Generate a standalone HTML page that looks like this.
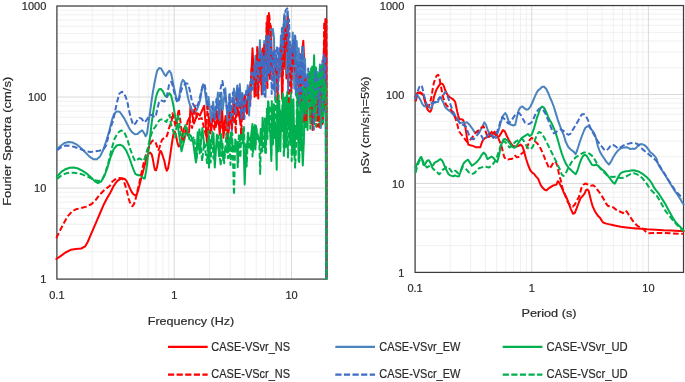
<!DOCTYPE html>
<html><head><meta charset="utf-8"><style>
html,body{margin:0;padding:0;background:#fff;overflow:hidden}
svg{display:block;will-change:transform}
</style></head><body>
<svg width="685" height="382" viewBox="0 0 685 382">
<rect width="685" height="382" fill="#ffffff"/>
<line x1="92.21" y1="6.01" x2="92.21" y2="279.10" stroke="#f0f0f0" stroke-width="1"/>
<line x1="112.87" y1="6.01" x2="112.87" y2="279.10" stroke="#f0f0f0" stroke-width="1"/>
<line x1="127.52" y1="6.01" x2="127.52" y2="279.10" stroke="#f0f0f0" stroke-width="1"/>
<line x1="138.89" y1="6.01" x2="138.89" y2="279.10" stroke="#f0f0f0" stroke-width="1"/>
<line x1="148.18" y1="6.01" x2="148.18" y2="279.10" stroke="#f0f0f0" stroke-width="1"/>
<line x1="156.03" y1="6.01" x2="156.03" y2="279.10" stroke="#f0f0f0" stroke-width="1"/>
<line x1="162.83" y1="6.01" x2="162.83" y2="279.10" stroke="#f0f0f0" stroke-width="1"/>
<line x1="168.83" y1="6.01" x2="168.83" y2="279.10" stroke="#f0f0f0" stroke-width="1"/>
<line x1="209.51" y1="6.01" x2="209.51" y2="279.10" stroke="#f0f0f0" stroke-width="1"/>
<line x1="230.17" y1="6.01" x2="230.17" y2="279.10" stroke="#f0f0f0" stroke-width="1"/>
<line x1="244.82" y1="6.01" x2="244.82" y2="279.10" stroke="#f0f0f0" stroke-width="1"/>
<line x1="256.19" y1="6.01" x2="256.19" y2="279.10" stroke="#f0f0f0" stroke-width="1"/>
<line x1="265.48" y1="6.01" x2="265.48" y2="279.10" stroke="#f0f0f0" stroke-width="1"/>
<line x1="273.33" y1="6.01" x2="273.33" y2="279.10" stroke="#f0f0f0" stroke-width="1"/>
<line x1="280.13" y1="6.01" x2="280.13" y2="279.10" stroke="#f0f0f0" stroke-width="1"/>
<line x1="286.13" y1="6.01" x2="286.13" y2="279.10" stroke="#f0f0f0" stroke-width="1"/>
<line x1="56.90" y1="251.70" x2="326.81" y2="251.70" stroke="#f0f0f0" stroke-width="1"/>
<line x1="56.90" y1="235.67" x2="326.81" y2="235.67" stroke="#f0f0f0" stroke-width="1"/>
<line x1="56.90" y1="224.29" x2="326.81" y2="224.29" stroke="#f0f0f0" stroke-width="1"/>
<line x1="56.90" y1="215.47" x2="326.81" y2="215.47" stroke="#f0f0f0" stroke-width="1"/>
<line x1="56.90" y1="208.26" x2="326.81" y2="208.26" stroke="#f0f0f0" stroke-width="1"/>
<line x1="56.90" y1="202.17" x2="326.81" y2="202.17" stroke="#f0f0f0" stroke-width="1"/>
<line x1="56.90" y1="196.89" x2="326.81" y2="196.89" stroke="#f0f0f0" stroke-width="1"/>
<line x1="56.90" y1="192.24" x2="326.81" y2="192.24" stroke="#f0f0f0" stroke-width="1"/>
<line x1="56.90" y1="160.67" x2="326.81" y2="160.67" stroke="#f0f0f0" stroke-width="1"/>
<line x1="56.90" y1="144.64" x2="326.81" y2="144.64" stroke="#f0f0f0" stroke-width="1"/>
<line x1="56.90" y1="133.26" x2="326.81" y2="133.26" stroke="#f0f0f0" stroke-width="1"/>
<line x1="56.90" y1="124.44" x2="326.81" y2="124.44" stroke="#f0f0f0" stroke-width="1"/>
<line x1="56.90" y1="117.23" x2="326.81" y2="117.23" stroke="#f0f0f0" stroke-width="1"/>
<line x1="56.90" y1="111.14" x2="326.81" y2="111.14" stroke="#f0f0f0" stroke-width="1"/>
<line x1="56.90" y1="105.86" x2="326.81" y2="105.86" stroke="#f0f0f0" stroke-width="1"/>
<line x1="56.90" y1="101.21" x2="326.81" y2="101.21" stroke="#f0f0f0" stroke-width="1"/>
<line x1="56.90" y1="69.64" x2="326.81" y2="69.64" stroke="#f0f0f0" stroke-width="1"/>
<line x1="56.90" y1="53.61" x2="326.81" y2="53.61" stroke="#f0f0f0" stroke-width="1"/>
<line x1="56.90" y1="42.23" x2="326.81" y2="42.23" stroke="#f0f0f0" stroke-width="1"/>
<line x1="56.90" y1="33.41" x2="326.81" y2="33.41" stroke="#f0f0f0" stroke-width="1"/>
<line x1="56.90" y1="26.20" x2="326.81" y2="26.20" stroke="#f0f0f0" stroke-width="1"/>
<line x1="56.90" y1="20.11" x2="326.81" y2="20.11" stroke="#f0f0f0" stroke-width="1"/>
<line x1="56.90" y1="14.83" x2="326.81" y2="14.83" stroke="#f0f0f0" stroke-width="1"/>
<line x1="56.90" y1="10.18" x2="326.81" y2="10.18" stroke="#f0f0f0" stroke-width="1"/>
<line x1="174.20" y1="6.01" x2="174.20" y2="279.10" stroke="#d9d9d9" stroke-width="1"/>
<line x1="291.50" y1="6.01" x2="291.50" y2="279.10" stroke="#d9d9d9" stroke-width="1"/>
<line x1="56.90" y1="188.07" x2="326.81" y2="188.07" stroke="#d9d9d9" stroke-width="1"/>
<line x1="56.90" y1="97.04" x2="326.81" y2="97.04" stroke="#d9d9d9" stroke-width="1"/>
<line x1="450.22" y1="5.55" x2="450.22" y2="272.40" stroke="#f0f0f0" stroke-width="1"/>
<line x1="470.76" y1="5.55" x2="470.76" y2="272.40" stroke="#f0f0f0" stroke-width="1"/>
<line x1="485.33" y1="5.55" x2="485.33" y2="272.40" stroke="#f0f0f0" stroke-width="1"/>
<line x1="496.63" y1="5.55" x2="496.63" y2="272.40" stroke="#f0f0f0" stroke-width="1"/>
<line x1="505.87" y1="5.55" x2="505.87" y2="272.40" stroke="#f0f0f0" stroke-width="1"/>
<line x1="513.68" y1="5.55" x2="513.68" y2="272.40" stroke="#f0f0f0" stroke-width="1"/>
<line x1="520.45" y1="5.55" x2="520.45" y2="272.40" stroke="#f0f0f0" stroke-width="1"/>
<line x1="526.41" y1="5.55" x2="526.41" y2="272.40" stroke="#f0f0f0" stroke-width="1"/>
<line x1="566.87" y1="5.55" x2="566.87" y2="272.40" stroke="#f0f0f0" stroke-width="1"/>
<line x1="587.41" y1="5.55" x2="587.41" y2="272.40" stroke="#f0f0f0" stroke-width="1"/>
<line x1="601.98" y1="5.55" x2="601.98" y2="272.40" stroke="#f0f0f0" stroke-width="1"/>
<line x1="613.28" y1="5.55" x2="613.28" y2="272.40" stroke="#f0f0f0" stroke-width="1"/>
<line x1="622.52" y1="5.55" x2="622.52" y2="272.40" stroke="#f0f0f0" stroke-width="1"/>
<line x1="630.33" y1="5.55" x2="630.33" y2="272.40" stroke="#f0f0f0" stroke-width="1"/>
<line x1="637.10" y1="5.55" x2="637.10" y2="272.40" stroke="#f0f0f0" stroke-width="1"/>
<line x1="643.06" y1="5.55" x2="643.06" y2="272.40" stroke="#f0f0f0" stroke-width="1"/>
<line x1="415.10" y1="245.62" x2="683.52" y2="245.62" stroke="#f0f0f0" stroke-width="1"/>
<line x1="415.10" y1="229.96" x2="683.52" y2="229.96" stroke="#f0f0f0" stroke-width="1"/>
<line x1="415.10" y1="218.85" x2="683.52" y2="218.85" stroke="#f0f0f0" stroke-width="1"/>
<line x1="415.10" y1="210.23" x2="683.52" y2="210.23" stroke="#f0f0f0" stroke-width="1"/>
<line x1="415.10" y1="203.18" x2="683.52" y2="203.18" stroke="#f0f0f0" stroke-width="1"/>
<line x1="415.10" y1="197.23" x2="683.52" y2="197.23" stroke="#f0f0f0" stroke-width="1"/>
<line x1="415.10" y1="192.07" x2="683.52" y2="192.07" stroke="#f0f0f0" stroke-width="1"/>
<line x1="415.10" y1="187.52" x2="683.52" y2="187.52" stroke="#f0f0f0" stroke-width="1"/>
<line x1="415.10" y1="156.67" x2="683.52" y2="156.67" stroke="#f0f0f0" stroke-width="1"/>
<line x1="415.10" y1="141.01" x2="683.52" y2="141.01" stroke="#f0f0f0" stroke-width="1"/>
<line x1="415.10" y1="129.90" x2="683.52" y2="129.90" stroke="#f0f0f0" stroke-width="1"/>
<line x1="415.10" y1="121.28" x2="683.52" y2="121.28" stroke="#f0f0f0" stroke-width="1"/>
<line x1="415.10" y1="114.23" x2="683.52" y2="114.23" stroke="#f0f0f0" stroke-width="1"/>
<line x1="415.10" y1="108.28" x2="683.52" y2="108.28" stroke="#f0f0f0" stroke-width="1"/>
<line x1="415.10" y1="103.12" x2="683.52" y2="103.12" stroke="#f0f0f0" stroke-width="1"/>
<line x1="415.10" y1="98.57" x2="683.52" y2="98.57" stroke="#f0f0f0" stroke-width="1"/>
<line x1="415.10" y1="67.72" x2="683.52" y2="67.72" stroke="#f0f0f0" stroke-width="1"/>
<line x1="415.10" y1="52.06" x2="683.52" y2="52.06" stroke="#f0f0f0" stroke-width="1"/>
<line x1="415.10" y1="40.95" x2="683.52" y2="40.95" stroke="#f0f0f0" stroke-width="1"/>
<line x1="415.10" y1="32.33" x2="683.52" y2="32.33" stroke="#f0f0f0" stroke-width="1"/>
<line x1="415.10" y1="25.28" x2="683.52" y2="25.28" stroke="#f0f0f0" stroke-width="1"/>
<line x1="415.10" y1="19.33" x2="683.52" y2="19.33" stroke="#f0f0f0" stroke-width="1"/>
<line x1="415.10" y1="14.17" x2="683.52" y2="14.17" stroke="#f0f0f0" stroke-width="1"/>
<line x1="415.10" y1="9.62" x2="683.52" y2="9.62" stroke="#f0f0f0" stroke-width="1"/>
<line x1="531.75" y1="5.55" x2="531.75" y2="272.40" stroke="#d9d9d9" stroke-width="1"/>
<line x1="648.40" y1="5.55" x2="648.40" y2="272.40" stroke="#d9d9d9" stroke-width="1"/>
<line x1="415.10" y1="183.45" x2="683.52" y2="183.45" stroke="#d9d9d9" stroke-width="1"/>
<line x1="415.10" y1="94.50" x2="683.52" y2="94.50" stroke="#d9d9d9" stroke-width="1"/>
<rect x="56.90" y="6.01" width="269.91" height="273.09" fill="none" stroke="#3c3c3c" stroke-width="1.25"/>
<rect x="415.10" y="5.55" width="268.42" height="266.85" fill="none" stroke="#3c3c3c" stroke-width="1.25"/>
<g fill="none" stroke-width="2.0" stroke-linejoin="round" stroke-linecap="round">
<path d="M56.3 259.0 L60.2 256.4 L65.5 252.5 L70.7 249.8 L75.9 249.1 L81.2 248.5 L85.1 246.4 L87.7 242.0 L91.6 232.8 L95.6 223.7 L99.5 214.5 L103.4 205.3 L107.4 197.5 L110.0 193.2 L111.8 189.7 L113.5 186.2 L115.9 182.6 L118.2 180.3 L120.6 178.9 L122.9 178.5 L124.7 178.9 L126.5 180.9 L128.2 184.4 L130.0 188.5 L131.8 192.1 L133.5 194.4 L135.3 195.4 L136.8 194.2 L138.2 190.3 L139.4 185.6 L140.8 180.0 L142.3 174.6 L143.9 168.3 L145.5 162.0 L147.1 156.8 L148.6 153.6 L150.2 152.6 L151.8 154.7 L152.8 158.9 L153.9 165.2 L154.9 169.9 L156.0 170.4 L157.0 167.3 L158.1 161.0 L159.1 154.7 L160.2 151.0 L161.2 151.5 L162.3 154.7 L163.3 157.8 L164.4 161.0 L165.5 166.9 L166.8 170.8 L168.1 168.2 L169.5 160.3 L170.8 151.2 L172.1 142.0 L173.4 134.2 L174.7 131.5 L176.0 135.5 L177.3 142.0 L178.6 146.6 L179.9 145.9 L181.2 142.0 L182.5 135.5 L183.8 128.9 L185.2 126.3 L186.5 131.5 L187.8 135.5 L189.1 131.5 L190.5 106.2 L194.0 123.5 L197.7 113.4 L199.9 115.5 L204.2 105.7 L206.9 141.9 L209.1 117.9 L211.2 130.7 L212.8 112.9 L215.7 127.3 L218.3 114.7 L219.7 134.7 L222.1 107.9 L223.4 137.8 L225.6 115.9 L228.5 133.2 L231.4 106.7 L234.1 122.1 L237.1 113.9 L238.1 111.4 L239.3 116.0 L240.7 125.0 L242.0 100.3 L243.3 112.3 L244.9 99.0 L246.9 113.6 L248.5 94.2 L250.1 103.4 L250.9 85.7 L252.5 48.2 L253.7 71.9 L254.6 96.7 L255.8 59.4 L256.5 95.8 L258.1 54.5 L259.6 78.2 L260.4 54.7 L261.8 94.4 L262.5 57.8 L263.3 86.8 L264.3 63.7 L265.8 71.7 L267.5 16.0 L268.2 75.4 L268.9 12.9 L270.0 79.1 L270.8 25.9 L272.3 72.9 L273.9 75.5 L274.9 86.1 L276.1 68.1 L277.3 85.5 L278.6 73.9 L279.8 76.1 L281.1 44.7 L282.1 98.8 L283.2 47.4 L283.9 68.9 L285.2 25.7 L286.4 78.6 L287.2 40.4 L288.3 82.1 L289.3 46.9 L290.7 51.2 L291.4 50.7 L293.0 65.7 L294.1 52.9 L295.1 75.0 L296.1 49.9 L297.3 76.6 L298.3 71.5 L299.1 93.2 L300.4 60.6 L301.3 107.8 L302.2 51.0 L303.3 40.8 L304.1 58.5 L305.1 116.1 L306.2 89.3 L307.0 97.1 L308.3 95.6 L309.4 98.0 L310.2 86.8 L311.1 123.5 L312.6 78.3 L313.5 124.6 L314.8 96.7 L315.8 96.1 L316.8 95.1 L317.7 102.8 L318.8 81.0 L319.8 127.6 L320.7 69.4 L322.2 124.2 L323.8 56.1 L325.4 19.0 L326.3 55.4 L326.4 279.1" stroke="#ff0000"/>
<path d="M57.1 149.3 L60.2 146.2 L64.4 143.0 L68.6 142.0 L72.8 142.6 L77.0 144.7 L81.2 148.2 L85.3 152.4 L89.5 156.6 L93.7 159.3 L96.8 159.3 L100.0 156.6 L103.1 150.3 L106.3 140.9 L109.4 130.5 L112.0 119.9 L113.9 114.7 L115.9 112.0 L117.9 111.4 L119.8 112.0 L121.8 114.7 L124.4 118.6 L127.0 123.8 L129.7 129.1 L132.3 132.4 L134.9 134.3 L137.5 134.1 L140.1 131.7 L142.1 130.4 L144.1 133.0 L145.6 136.3 L147.0 133.7 L148.0 126.5 L149.3 117.3 L150.6 108.1 L151.9 98.5 L153.2 90.4 L154.6 82.5 L155.9 76.0 L157.2 70.7 L159.1 68.1 L161.1 68.5 L163.1 72.0 L165.0 75.3 L165.9 75.9 L167.5 73.0 L169.4 70.7 L171.1 73.3 L172.4 79.9 L173.7 86.4 L175.1 93.0 L176.4 98.2 L177.6 101.0 L179.0 98.2 L180.3 89.0 L181.6 82.5 L182.9 79.9 L184.2 81.2 L185.5 85.1 L186.8 91.6 L188.1 98.2 L189.5 103.4 L190.7 107.0 L192.7 111.6 L194.6 113.6 L196.6 110.3 L198.6 105.1 L200.5 98.6 L201.8 89.4 L203.1 84.2 L204.5 88.1 L205.8 97.3 L207.1 109.0 L208.5 96.9 L211.3 122.0 L213.1 101.7 L215.2 119.7 L217.9 92.5 L219.3 124.6 L221.4 92.4 L222.7 109.9 L225.3 88.2 L228.2 129.2 L229.6 94.4 L231.9 130.9 L233.9 88.6 L235.9 99.5 L237.1 88.2 L238.6 104.0 L239.8 84.1 L241.2 104.8 L242.2 92.9 L243.7 115.7 L244.9 94.8 L246.8 95.3 L247.8 85.2 L249.1 115.5 L250.2 81.9 L251.5 88.1 L252.7 75.6 L254.2 85.9 L255.4 55.7 L256.4 92.8 L257.4 48.1 L258.6 86.0 L259.9 40.3 L261.0 77.0 L262.4 50.4 L263.5 76.0 L264.2 41.1 L265.5 97.1 L266.8 38.3 L267.6 72.9 L269.2 43.3 L270.4 27.0 L271.3 36.7 L272.9 29.0 L274.0 37.9 L275.2 100.0 L275.9 56.0 L277.3 92.9 L278.7 58.1 L279.9 76.6 L280.9 35.3 L282.4 71.6 L283.3 28.5 L284.4 14.0 L285.4 20.2 L286.7 73.1 L287.8 11.2 L288.7 50.4 L290.0 41.9 L291.4 92.8 L292.8 32.5 L294.3 88.4 L295.0 35.5 L295.8 94.8 L296.7 41.0 L297.9 77.7 L298.7 48.2 L299.9 72.5 L300.8 57.4 L301.9 79.2 L303.0 47.6 L304.1 92.0 L304.9 58.5 L306.5 103.1 L307.3 74.9 L308.8 88.6 L309.5 72.0 L310.8 96.2 L312.2 83.0 L313.4 97.2 L315.0 83.4 L316.1 95.0 L317.4 71.9 L318.6 96.8 L319.9 64.4 L320.9 127.9 L322.4 60.6 L323.8 88.3 L325.4 62.6 L326.4 279.1" stroke="#4a84bd"/>
<path d="M57.1 176.5 L61.3 171.9 L65.5 169.2 L69.6 167.7 L73.8 167.5 L78.0 168.5 L82.2 170.6 L86.4 173.3 L90.6 176.9 L94.7 181.1 L97.9 183.2 L101.0 181.7 L104.2 176.5 L107.3 168.1 L110.4 157.7 L113.6 149.3 L116.7 145.5 L119.9 144.7 L123.0 146.2 L126.1 150.3 L129.3 157.7 L131.8 165.0 L133.5 169.7 L135.3 173.8 L137.6 175.2 L140.0 175.0 L141.8 176.2 L143.5 178.5 L144.8 178.5 L146.0 171.5 L147.1 164.1 L148.1 153.6 L149.2 145.2 L150.5 133.0 L151.9 121.2 L153.9 108.1 L155.9 97.6 L157.2 93.0 L159.1 89.3 L161.1 89.1 L163.1 91.7 L165.0 95.6 L167.0 96.9 L168.5 94.5 L169.6 93.3 L171.1 95.6 L172.4 100.8 L173.5 106.0 L174.6 113.0 L175.8 120.0 L177.5 123.7 L181.5 151.3 L186.1 132.7 L190.6 135.3 L193.1 142.1 L195.9 162.4 L197.7 132.2 L199.7 153.5 L202.4 128.0 L204.4 147.7 L207.8 142.6 L209.0 167.6 L210.2 139.9 L211.3 142.2 L213.5 133.2 L214.8 167.5 L216.9 134.7 L219.2 156.5 L221.0 134.1 L223.3 160.4 L225.5 147.8 L226.9 152.3 L228.1 133.7 L229.2 150.7 L231.0 132.4 L232.9 151.4 L234.3 145.4 L235.9 150.5 L237.0 141.8 L237.7 167.3 L238.4 142.3 L239.9 141.2 L241.3 132.7 L242.5 139.9 L243.2 128.7 L244.7 184.4 L246.1 144.3 L247.2 147.6 L248.0 132.7 L249.0 139.9 L250.1 138.6 L251.2 136.9 L252.4 124.0 L253.1 152.3 L254.3 126.9 L255.4 149.5 L256.1 126.0 L256.8 136.4 L257.4 133.5 L258.6 138.2 L259.2 141.0 L260.0 144.5 L260.7 129.0 L261.8 145.3 L262.6 117.7 L263.8 131.0 L264.6 132.1 L265.2 152.4 L266.4 120.3 L267.5 124.5 L268.3 101.6 L269.4 130.9 L270.2 130.2 L271.3 160.9 L272.2 108.1 L273.2 138.0 L273.9 104.3 L274.5 132.9 L275.7 126.4 L276.7 169.7 L277.4 95.2 L278.1 151.6 L279.2 101.1 L280.3 151.2 L281.3 111.7 L282.3 131.2 L283.3 97.7 L284.2 150.8 L285.2 97.6 L286.4 144.8 L287.3 92.0 L288.2 125.3 L289.2 103.0 L290.2 144.7 L291.3 99.2 L292.3 149.2 L293.4 99.2 L294.5 155.6 L295.4 125.8 L296.6 138.8 L297.5 93.5 L298.6 160.9 L299.4 111.6 L300.5 150.2 L301.1 114.5 L302.0 144.7 L302.8 165.5 L303.9 140.7 L304.9 84.3 L305.5 127.2 L306.5 82.5 L307.5 130.0 L308.0 85.1 L308.7 95.7 L309.3 75.1 L309.9 98.4 L310.5 77.0 L311.3 118.8 L312.2 66.5 L313.3 83.5 L314.1 55.2 L314.9 87.7 L316.0 67.6 L316.6 115.8 L317.1 75.7 L317.9 114.2 L319.1 90.2 L319.9 125.9 L320.8 72.8 L321.5 114.3 L322.4 96.9 L323.6 113.7 L324.3 93.0 L324.8 89.8 L325.7 80.7 L326.4 113.1 L326.4 279.1" stroke="#00b050"/>
<path d="M56.3 238.1 L60.2 230.2 L64.2 222.4 L68.1 215.8 L72.0 211.4 L75.9 209.3 L81.2 208.0 L86.4 206.6 L91.6 204.0 L95.6 200.1 L99.5 194.9 L104.7 189.6 L110.0 185.7 L112.4 181.5 L114.7 179.7 L117.1 178.5 L119.4 177.9 L121.8 178.2 L123.5 180.3 L125.3 185.6 L127.1 192.1 L128.8 199.1 L130.6 204.4 L132.4 206.2 L134.1 203.8 L135.9 197.9 L137.6 190.3 L139.4 182.6 L141.3 173.6 L142.9 166.2 L145.0 157.8 L147.1 151.5 L149.2 146.3 L151.3 142.1 L152.8 140.5 L154.0 140.8 L155.5 142.1 L157.0 146.3 L158.3 150.2 L159.6 147.3 L160.9 142.7 L162.3 139.4 L164.2 138.1 L166.2 137.4 L167.5 134.2 L168.8 128.9 L170.1 125.0 L171.5 123.0 L172.5 113.3 L175.6 126.6 L178.8 108.9 L183.0 141.6 L188.6 117.2 L192.1 128.0 L194.8 105.4 L197.2 119.6 L201.7 118.1 L206.0 135.6 L207.6 106.4 L210.1 133.5 L212.9 119.1 L214.4 129.7 L216.9 110.6 L218.5 126.4 L220.0 121.7 L222.8 128.6 L224.7 120.8 L227.0 138.3 L229.8 110.9 L231.8 128.6 L233.9 99.1 L235.8 133.9 L236.7 95.5 L238.4 115.3 L239.9 101.5 L241.2 137.4 L242.4 97.8 L243.5 120.6 L244.7 94.5 L246.5 104.0 L247.7 98.0 L248.5 91.0 L249.4 88.3 L250.7 87.7 L251.7 65.9 L252.8 74.4 L254.1 77.1 L255.7 91.8 L257.3 46.9 L258.2 99.4 L259.6 58.7 L261.2 84.3 L262.6 48.6 L263.5 74.5 L264.3 45.0 L265.9 62.4 L266.6 22.8 L267.4 88.0 L268.5 21.2 L269.2 15.0 L270.3 25.3 L271.1 53.6 L271.9 57.0 L272.7 63.5 L273.9 52.5 L275.5 73.7 L276.7 71.7 L277.7 100.4 L278.9 53.7 L279.9 62.5 L281.0 45.3 L282.5 91.2 L283.7 32.4 L284.6 59.4 L285.5 28.7 L286.9 50.6 L287.7 16.8 L288.9 104.1 L290.0 59.2 L291.2 93.2 L292.6 45.4 L293.4 64.6 L294.9 68.9 L296.4 76.3 L297.7 70.7 L299.0 104.7 L300.2 72.2 L301.5 81.2 L303.0 81.2 L303.8 121.5 L305.4 78.0 L306.1 121.7 L306.9 96.1 L308.2 90.0 L309.1 87.8 L310.3 120.3 L311.8 78.9 L312.5 129.9 L313.2 99.8 L314.0 124.6 L315.4 99.3 L316.6 126.7 L317.5 90.0 L318.5 126.6 L319.9 81.7 L321.1 87.4 L321.8 80.0 L322.9 122.9 L324.2 22.0 L325.2 109.2 L326.4 20.1 L326.4 279.1" stroke="#ff0000" stroke-dasharray="5.6 2.6" stroke-linecap="butt"/>
<path d="M57.1 150.3 L61.3 147.2 L65.5 145.5 L69.6 145.7 L73.8 146.8 L78.0 148.2 L82.2 149.9 L86.4 151.4 L90.6 152.0 L94.7 151.4 L98.9 150.8 L103.1 149.9 L106.3 145.1 L108.3 136.7 L110.4 128.4 L113.3 119.9 L115.2 110.7 L117.2 101.6 L119.2 93.7 L121.8 91.7 L123.8 93.0 L125.7 96.9 L127.7 103.5 L128.5 108.1 L130.3 116.0 L132.3 122.5 L133.6 125.1 L135.6 123.2 L137.5 119.9 L139.5 117.9 L141.5 118.6 L143.4 121.2 L144.7 122.5 L146.7 119.9 L148.7 116.6 L150.6 114.7 L152.6 115.3 L154.6 117.3 L155.9 116.0 L157.2 109.4 L158.8 102.9 L160.5 100.2 L162.4 100.9 L164.4 101.6 L166.4 98.9 L167.7 91.7 L169.0 85.1 L170.3 82.5 L171.1 81.8 L172.4 84.5 L173.7 90.3 L175.1 95.6 L176.4 100.2 L177.7 102.5 L179.0 100.0 L180.5 93.0 L182.0 88.0 L183.6 86.4 L185.5 83.1 L187.5 83.8 L189.5 89.0 L190.8 95.6 L192.1 102.1 L194.0 106.0 L196.0 108.0 L198.5 103.0 L200.6 94.3 L202.5 86.4 L204.5 83.8 L206.0 92.0 L207.5 103.6 L210.5 107.6 L212.0 106.4 L214.6 120.2 L216.4 99.1 L218.8 116.6 L220.4 89.2 L222.4 81.0 L225.5 99.6 L227.8 114.5 L229.6 94.3 L230.9 116.2 L232.8 92.4 L235.7 114.7 L237.3 85.5 L238.2 107.0 L239.3 88.3 L241.4 118.6 L242.5 93.9 L244.4 118.8 L246.3 88.9 L247.8 99.7 L249.3 86.3 L250.2 106.0 L251.5 72.7 L252.7 89.8 L254.3 65.2 L255.7 78.0 L257.2 61.4 L258.3 80.5 L259.9 51.9 L261.0 65.9 L262.0 53.3 L262.8 94.0 L263.8 56.9 L264.7 95.9 L266.1 36.0 L267.2 80.5 L268.5 33.7 L269.4 73.1 L270.9 39.1 L271.7 94.0 L273.0 50.3 L273.9 90.8 L274.6 48.5 L275.6 67.2 L277.1 46.6 L278.2 90.3 L279.2 48.3 L280.7 68.8 L282.0 28.1 L283.0 50.6 L284.3 14.6 L285.9 10.0 L287.3 8.4 L288.2 90.9 L289.0 19.2 L290.4 66.3 L291.1 48.9 L291.9 52.0 L292.9 41.0 L294.3 59.7 L295.3 36.2 L296.4 96.1 L297.8 61.2 L299.2 106.1 L300.5 52.0 L301.4 97.7 L302.4 44.7 L303.5 115.4 L304.3 63.6 L305.3 100.7 L306.2 80.6 L307.1 109.1 L308.2 68.4 L309.4 93.3 L310.1 72.3 L310.9 94.2 L312.2 79.4 L313.8 129.7 L315.4 71.6 L316.5 95.7 L317.8 76.2 L319.2 115.0 L320.1 69.2 L321.3 81.1 L322.0 63.6 L322.8 112.5 L323.7 53.4 L324.6 82.9 L325.5 56.0 L326.4 279.1" stroke="#3f6cc4" stroke-dasharray="5.6 2.6" stroke-linecap="butt"/>
<path d="M57.1 179.0 L61.3 175.4 L65.5 173.6 L69.6 172.7 L73.8 172.7 L78.0 173.3 L82.2 174.4 L86.4 176.1 L90.6 178.2 L94.7 180.3 L98.9 181.1 L102.1 179.6 L105.2 173.3 L108.3 162.9 L111.5 149.3 L114.6 138.8 L117.8 133.0 L120.9 130.5 L124.0 131.5 L127.2 138.8 L130.3 149.3 L133.5 157.7 L135.0 161.0 L137.1 159.9 L139.2 158.4 L141.3 159.4 L142.9 161.0 L144.3 159.5 L145.5 156.8 L146.5 152.6 L147.6 148.4 L148.6 144.2 L149.8 139.4 L151.8 132.9 L153.7 128.9 L155.7 126.3 L157.2 123.2 L159.8 119.9 L162.4 119.2 L164.4 120.6 L166.4 121.9 L168.3 117.3 L169.6 114.7 L171.0 124.1 L175.2 137.5 L178.0 114.3 L181.8 142.4 L185.9 124.2 L190.0 141.9 L194.2 136.7 L196.5 161.0 L199.5 128.4 L202.1 161.2 L204.2 142.4 L207.1 163.1 L208.5 130.9 L210.6 162.6 L212.2 131.8 L213.4 158.5 L214.8 148.5 L216.6 147.8 L218.4 136.0 L220.6 165.7 L222.3 141.8 L224.2 163.2 L226.5 132.9 L228.0 158.2 L229.4 140.6 L230.5 165.0 L232.2 133.0 L234.0 194.8 L235.3 137.9 L236.1 147.7 L237.5 141.4 L238.2 162.1 L238.9 133.3 L240.4 157.6 L241.3 132.8 L242.4 143.3 L243.9 126.9 L245.0 160.5 L246.0 145.9 L246.7 166.4 L247.8 136.2 L249.0 149.7 L250.1 138.5 L250.9 149.4 L251.9 128.8 L252.5 156.4 L253.2 130.0 L254.3 139.5 L254.8 123.6 L255.7 144.4 L256.4 128.4 L257.6 141.2 L258.4 138.3 L259.3 140.8 L260.2 174.0 L260.8 143.4 L261.5 134.2 L262.3 151.4 L263.4 136.7 L264.2 149.0 L265.0 118.4 L265.8 154.3 L267.0 108.6 L267.5 138.9 L268.1 100.1 L269.1 123.0 L270.1 105.4 L271.3 155.4 L271.8 100.0 L273.0 144.3 L273.8 118.7 L274.9 138.2 L275.7 95.8 L276.5 121.6 L277.5 110.3 L278.1 144.3 L278.7 95.1 L279.6 136.3 L280.8 110.4 L281.8 119.8 L282.9 93.5 L283.8 157.7 L284.9 121.6 L285.8 147.0 L286.8 93.8 L288.0 157.5 L288.8 116.0 L289.7 126.5 L290.7 92.6 L291.7 160.9 L292.5 123.9 L293.0 155.0 L293.7 125.2 L294.6 158.2 L295.1 167.6 L296.2 144.7 L297.1 91.4 L297.7 131.6 L298.3 126.9 L299.3 162.0 L300.3 97.2 L300.9 149.7 L301.5 103.4 L302.3 135.4 L302.9 87.3 L303.7 109.4 L304.6 86.6 L305.3 112.8 L306.2 88.5 L306.9 110.8 L307.8 106.0 L308.6 101.6 L309.4 72.6 L310.3 128.7 L311.2 66.9 L311.9 105.9 L312.8 70.8 L314.0 113.1 L314.9 81.5 L315.9 126.3 L316.7 80.6 L317.9 92.5 L318.8 71.7 L319.4 87.4 L320.4 66.4 L321.4 90.5 L322.2 65.2 L323.1 122.3 L323.8 79.2 L324.9 98.3 L325.8 85.1 L326.4 279.1" stroke="#00b050" stroke-dasharray="5.6 2.6" stroke-linecap="butt"/>
</g>
<g fill="none" stroke-width="2.0" stroke-linejoin="round" stroke-linecap="round">
<path d="M415.3 96.5 L417.2 93.0 L419.3 92.5 L420.1 92.5 L422.2 93.6 L423.8 96.2 L424.8 101.1 L426.1 105.7 L427.5 109.4 L428.9 111.2 L430.3 111.7 L431.2 110.3 L432.1 106.6 L433.0 102.0 L433.9 97.4 L435.3 92.8 L436.7 89.2 L438.1 86.9 L439.4 85.0 L440.8 83.7 L442.2 83.7 L443.6 85.5 L444.9 89.2 L446.3 92.8 L447.7 95.1 L449.5 97.0 L451.5 98.3 L453.6 99.9 L455.2 101.9 L456.2 106.7 L457.3 111.9 L458.3 116.1 L459.4 119.2 L460.9 119.2 L462.5 119.4 L463.5 120.8 L464.6 124.5 L465.6 128.6 L467.0 138.0 L468.3 144.6 L470.3 145.2 L472.9 145.9 L475.6 147.2 L478.2 147.2 L480.3 147.3 L481.6 143.3 L482.9 140.1 L484.9 138.1 L486.7 137.4 L488.8 136.8 L491.5 135.5 L493.4 132.9 L495.4 134.8 L497.4 137.5 L499.3 136.1 L501.3 132.9 L502.9 130.1 L504.8 131.4 L506.8 136.0 L508.8 139.9 L510.7 143.2 L512.7 145.8 L514.7 146.5 L516.6 146.5 L518.6 145.8 L520.6 144.5 L522.5 146.5 L523.8 150.4 L525.1 155.3 L526.3 159.5 L528.3 165.5 L530.2 170.1 L532.2 172.7 L534.2 174.0 L536.1 176.6 L538.1 178.6 L539.4 181.9 L540.7 185.1 L542.7 187.8 L544.7 189.7 L546.6 190.4 L548.6 188.4 L550.6 187.1 L552.5 185.8 L554.5 185.1 L556.5 184.5 L557.8 181.2 L559.1 182.5 L560.4 185.1 L562.4 189.1 L563.7 192.5 L565.0 194.5 L567.0 198.6 L568.9 203.8 L570.9 209.1 L572.9 213.7 L574.8 213.0 L576.8 207.8 L578.8 202.5 L580.7 197.9 L582.7 196.0 L584.7 193.3 L586.0 190.1 L587.3 189.4 L588.6 190.7 L589.9 196.0 L591.2 201.2 L592.5 205.8 L594.5 210.4 L596.5 213.7 L598.4 216.3 L600.0 217.8 L601.6 220.4 L603.1 222.5 L606.3 223.6 L610.5 224.6 L615.7 225.7 L620.9 226.7 L626.2 227.4 L631.4 228.1 L636.6 228.5 L641.9 228.8 L647.1 229.3 L655.7 229.8 L663.6 230.3 L671.4 230.6 L679.3 231.0 L683.7 231.0" stroke="#ff0000"/>
<path d="M415.1 98.3 L417.2 94.6 L418.0 96.2 L419.6 98.3 L421.1 101.4 L422.7 104.6 L424.3 106.3 L426.4 106.6 L428.0 106.1 L429.3 107.5 L430.7 108.4 L432.1 105.7 L433.5 102.9 L434.8 102.5 L436.7 102.0 L438.1 102.0 L439.0 98.3 L439.9 97.0 L440.8 98.3 L442.0 100.0 L443.6 102.9 L444.9 106.6 L446.3 108.4 L447.7 109.6 L449.5 110.8 L451.5 112.5 L453.6 115.0 L455.7 117.1 L457.3 118.2 L458.8 121.3 L459.9 123.4 L461.5 122.9 L463.0 122.4 L465.1 122.9 L467.0 122.3 L469.0 124.2 L471.0 126.9 L472.9 129.5 L474.9 132.8 L476.9 131.5 L478.8 132.8 L480.8 129.5 L482.8 125.6 L484.3 122.3 L486.0 124.9 L488.0 130.8 L490.0 134.1 L491.9 135.4 L493.9 136.7 L495.9 138.0 L497.0 134.7 L498.9 129.4 L500.9 121.6 L502.9 116.0 L505.2 113.0 L506.8 115.6 L508.1 119.6 L509.4 124.0 L511.4 124.8 L513.3 125.5 L515.3 124.8 L516.6 118.5 L518.6 110.4 L520.6 107.1 L522.5 106.5 L524.5 108.4 L526.5 109.7 L528.4 109.1 L530.4 106.5 L532.4 102.5 L534.3 97.9 L536.3 93.3 L538.3 90.1 L540.2 88.8 L542.2 86.8 L544.1 86.8 L546.1 88.8 L548.1 92.7 L550.0 97.5 L552.0 102.0 L553.9 107.0 L555.9 113.6 L557.9 120.1 L559.8 125.4 L561.8 130.6 L563.8 135.2 L565.7 141.8 L568.3 147.0 L571.0 149.7 L573.6 151.6 L575.6 154.2 L576.9 151.0 L578.2 147.0 L580.1 141.0 L582.1 135.5 L584.1 130.5 L585.4 127.8 L587.4 126.2 L589.3 126.7 L591.3 129.3 L593.3 131.9 L595.2 135.5 L596.5 140.0 L597.8 146.0 L599.8 151.5 L602.1 155.4 L604.2 158.5 L606.3 161.6 L608.9 164.6 L611.0 161.6 L613.1 157.5 L615.7 153.3 L618.3 150.1 L620.9 148.2 L623.6 147.5 L626.2 147.2 L628.3 147.8 L630.4 149.1 L632.5 148.6 L634.6 148.9 L636.1 148.0 L637.7 145.9 L639.8 144.4 L641.9 144.1 L644.0 144.9 L646.1 146.5 L648.2 149.1 L650.3 152.2 L652.4 153.8 L654.5 155.9 L656.5 158.5 L657.5 162.5 L659.3 166.3 L661.2 169.2 L664.8 174.4 L668.0 179.7 L671.1 184.9 L674.3 190.1 L677.3 194.5 L680.0 198.5 L682.4 202.8 L683.7 204.3" stroke="#4a84bd"/>
<path d="M415.6 167.5 L417.2 163.8 L418.8 160.7 L420.3 157.6 L421.4 157.0 L422.4 160.7 L423.5 164.9 L424.5 165.3 L425.6 163.3 L427.1 160.7 L428.7 160.2 L430.0 162.0 L431.3 164.9 L432.4 165.9 L433.5 164.8 L434.5 162.8 L436.0 161.8 L437.6 161.2 L439.2 159.7 L440.7 159.1 L442.3 160.7 L443.9 164.4 L445.5 168.0 L447.0 171.2 L448.6 174.3 L450.2 175.4 L451.7 175.9 L453.3 176.4 L454.9 175.4 L456.0 175.9 L457.5 176.4 L459.0 176.2 L460.3 172.5 L462.0 166.9 L463.9 163.0 L465.9 161.0 L467.9 159.7 L469.8 162.4 L471.8 165.6 L473.7 164.5 L475.7 163.0 L477.7 161.0 L479.7 158.4 L481.6 155.1 L483.6 152.5 L485.6 154.5 L487.5 159.1 L489.5 157.8 L491.5 156.5 L493.4 157.8 L495.4 160.4 L497.2 162.0 L498.9 156.0 L500.4 148.0 L501.9 143.0 L503.5 139.5 L504.8 139.0 L506.5 139.8 L508.3 141.6 L510.3 144.2 L512.2 146.6 L514.2 147.8 L516.2 146.5 L517.9 143.8 L519.9 140.6 L521.9 137.9 L523.8 136.6 L525.8 135.3 L527.8 134.0 L529.7 136.0 L531.7 134.7 L533.7 129.4 L535.6 122.9 L537.0 117.5 L538.3 114.3 L540.2 108.4 L542.2 106.5 L544.1 107.8 L546.1 111.7 L548.1 116.9 L550.0 120.4 L552.0 124.0 L553.9 128.5 L555.9 133.6 L557.9 140.2 L559.8 147.0 L561.8 153.6 L563.8 158.8 L565.7 163.4 L568.3 167.4 L571.0 170.0 L573.6 172.5 L575.7 174.2 L577.4 170.7 L579.4 164.2 L581.4 158.9 L583.3 155.5 L585.0 155.0 L586.5 155.6 L588.0 158.2 L590.0 161.5 L591.9 164.7 L593.9 165.4 L595.9 164.7 L597.8 165.4 L599.8 167.4 L601.8 169.3 L603.7 170.8 L605.5 172.5 L607.0 174.5 L608.9 177.1 L610.9 179.7 L612.9 182.4 L614.8 183.7 L616.8 179.7 L618.8 175.8 L620.7 173.2 L623.3 171.9 L626.0 171.2 L628.6 171.0 L631.2 170.6 L633.8 170.2 L636.5 171.0 L639.2 171.8 L643.4 174.4 L646.5 177.0 L649.7 180.2 L651.8 183.3 L653.8 187.2 L655.9 190.1 L658.6 193.3 L661.2 197.5 L663.8 201.6 L665.9 205.0 L668.3 209.7 L672.4 217.0 L675.6 222.2 L679.8 226.4 L683.4 230.5" stroke="#00b050"/>
<path d="M415.6 101.4 L416.7 97.2 L418.2 93.5 L420.0 92.5 L421.5 94.0 L423.8 96.5 L425.2 101.1 L426.6 104.8 L428.0 106.7 L429.5 104.6 L430.3 102.0 L431.2 98.3 L432.1 92.8 L433.0 87.3 L433.9 82.8 L435.0 79.5 L436.6 75.8 L438.1 74.7 L439.4 77.0 L440.3 83.7 L441.3 88.3 L442.2 92.8 L443.1 97.4 L444.5 101.1 L445.9 104.3 L447.2 106.1 L448.6 106.9 L450.5 109.3 L452.6 111.9 L454.1 115.0 L455.7 119.2 L457.3 124.5 L458.3 128.6 L459.2 131.5 L461.0 134.0 L463.1 136.7 L465.1 139.3 L467.0 141.9 L469.0 141.0 L471.8 138.1 L474.4 134.2 L477.0 131.6 L479.5 129.5 L481.6 127.6 L483.4 126.2 L485.5 131.0 L487.5 136.8 L489.5 134.5 L491.5 132.2 L493.4 130.2 L495.4 132.9 L497.6 136.6 L499.6 141.2 L501.6 146.5 L502.9 151.7 L504.2 156.9 L506.1 159.6 L508.1 159.6 L510.1 158.9 L512.0 158.9 L514.0 156.9 L515.3 155.6 L516.8 157.2 L518.6 156.9 L520.6 154.3 L522.5 153.0 L524.5 151.0 L526.5 148.4 L528.4 143.8 L529.7 139.9 L531.7 137.9 L533.7 139.2 L535.6 141.9 L537.6 143.8 L539.6 146.5 L541.5 150.4 L543.5 155.0 L545.3 159.6 L547.3 164.2 L549.2 168.5 L551.2 166.5 L553.2 162.9 L554.5 161.5 L556.0 162.5 L557.5 166.5 L559.1 174.7 L561.0 181.2 L562.4 187.8 L563.7 191.7 L565.0 195.0 L567.0 200.6 L568.9 203.8 L570.9 205.8 L572.9 206.5 L574.8 204.5 L576.8 200.6 L578.8 197.3 L580.1 193.3 L581.4 188.1 L583.3 184.8 L585.3 183.5 L587.3 184.2 L589.2 185.5 L591.2 185.7 L593.2 185.2 L595.1 186.8 L597.1 189.4 L599.1 192.0 L601.0 194.7 L603.0 197.9 L604.2 200.0 L605.8 203.1 L607.9 205.8 L610.5 206.8 L613.1 207.3 L615.7 209.4 L618.3 211.0 L620.9 212.0 L623.0 213.1 L625.1 210.5 L626.7 211.5 L628.3 214.1 L630.4 217.3 L632.5 220.4 L634.6 223.0 L636.6 225.1 L638.7 226.7 L640.8 227.7 L642.9 228.8 L645.0 230.9 L646.6 232.5 L648.2 233.2 L655.7 232.9 L663.6 232.9 L671.4 233.4 L679.3 233.7 L683.7 233.7" stroke="#ff0000" stroke-dasharray="5.6 2.6" stroke-linecap="butt"/>
<path d="M415.3 99.3 L416.1 96.2 L418.0 90.5 L419.5 86.5 L420.9 85.2 L422.0 86.4 L422.9 90.1 L423.8 94.7 L424.8 98.3 L425.7 102.0 L427.0 104.8 L428.4 105.7 L429.8 104.8 L431.2 103.4 L432.6 102.5 L433.9 102.5 L435.3 102.0 L436.7 101.6 L438.1 99.7 L439.4 97.9 L440.8 97.4 L442.0 97.5 L443.1 96.1 L444.5 92.8 L445.4 91.9 L446.3 92.8 L447.7 96.5 L449.1 100.6 L450.5 104.6 L452.0 108.8 L453.6 112.4 L455.2 115.6 L456.7 118.2 L458.3 120.8 L459.9 122.9 L461.5 124.0 L463.1 125.0 L465.7 126.2 L467.7 131.5 L469.7 136.7 L471.6 138.7 L473.6 139.3 L475.6 136.7 L477.5 134.7 L479.5 132.1 L481.5 136.0 L483.4 139.3 L485.4 139.0 L487.4 135.5 L489.3 133.4 L491.3 135.0 L493.3 138.0 L495.2 135.0 L497.2 131.5 L499.1 126.2 L500.5 121.0 L502.2 117.0 L504.0 118.5 L506.1 120.9 L508.1 123.5 L510.0 122.0 L512.0 119.6 L514.7 115.6 L517.3 113.0 L519.2 113.0 L521.2 115.6 L523.2 119.6 L525.1 122.8 L527.8 124.1 L529.7 123.8 L531.7 122.2 L533.7 118.3 L535.6 113.7 L537.6 110.4 L539.6 108.4 L541.5 108.4 L543.5 110.4 L545.5 113.7 L547.4 118.3 L549.4 123.0 L551.0 127.5 L552.5 131.0 L553.9 133.3 L555.5 132.5 L557.9 130.6 L560.5 129.3 L563.1 130.6 L565.7 133.0 L568.3 134.8 L570.3 133.9 L572.3 130.6 L574.2 127.4 L576.2 124.1 L578.2 120.8 L580.1 116.9 L582.1 114.2 L584.1 114.2 L586.0 116.2 L588.0 120.1 L589.3 125.4 L591.3 130.0 L593.3 133.3 L595.2 136.8 L597.2 140.5 L599.8 144.0 L602.1 147.0 L604.2 149.6 L606.3 150.7 L608.4 148.6 L610.5 145.9 L613.1 144.9 L615.7 146.5 L618.3 148.6 L620.9 147.0 L623.6 145.4 L626.2 144.4 L628.8 143.6 L631.4 143.0 L634.0 143.0 L636.6 143.6 L638.7 144.9 L640.8 147.5 L642.9 149.6 L645.0 151.2 L647.1 152.7 L649.2 154.8 L651.3 156.4 L653.4 158.0 L655.5 160.1 L657.6 162.2 L659.8 166.0 L662.0 169.8 L665.3 175.0 L668.5 180.2 L671.8 185.2 L674.8 189.8 L677.5 193.0 L680.0 195.5 L683.2 198.1" stroke="#3f6cc4" stroke-dasharray="5.6 2.6" stroke-linecap="butt"/>
<path d="M415.6 172.7 L417.0 167.0 L418.2 163.8 L419.8 160.2 L421.4 158.1 L422.8 160.5 L424.0 163.8 L425.6 165.9 L427.1 167.5 L428.7 166.5 L430.3 164.9 L431.8 167.0 L433.4 169.1 L435.5 170.7 L437.6 172.7 L439.2 174.3 L440.7 172.7 L442.3 170.1 L444.4 168.6 L446.5 167.0 L448.6 167.5 L450.2 169.6 L451.7 171.7 L453.3 172.5 L454.9 170.7 L456.4 171.5 L458.0 173.3 L459.6 172.5 L461.2 170.1 L462.7 167.0 L464.5 168.0 L466.6 169.6 L469.0 172.5 L471.8 174.1 L474.5 173.0 L477.0 170.2 L479.0 168.2 L481.0 167.6 L482.9 167.0 L484.9 166.3 L486.9 167.0 L488.8 167.6 L490.8 166.3 L492.8 164.3 L494.7 161.7 L496.7 157.8 L498.0 153.8 L499.3 149.9 L500.6 146.0 L501.9 143.3 L503.7 141.0 L505.7 142.5 L507.6 145.2 L509.6 147.5 L511.4 146.5 L513.3 143.8 L515.3 141.9 L517.3 140.6 L519.2 139.2 L521.2 138.6 L523.2 139.9 L525.1 143.2 L527.1 147.1 L529.1 149.1 L531.0 149.1 L533.0 146.5 L535.0 139.9 L536.9 134.7 L538.9 132.0 L540.9 132.7 L542.8 135.3 L544.8 138.6 L546.8 142.5 L548.7 146.5 L550.7 150.4 L552.7 154.5 L554.6 158.5 L556.5 162.0 L557.9 165.4 L559.8 169.3 L561.8 174.6 L563.5 176.0 L565.7 173.2 L567.7 169.3 L569.7 165.4 L571.6 162.1 L573.6 159.5 L576.2 156.9 L578.8 155.6 L581.5 153.6 L584.1 152.5 L586.7 152.5 L589.3 153.6 L591.9 155.6 L593.9 158.2 L595.9 161.5 L597.8 165.4 L600.5 168.7 L602.4 170.6 L605.0 173.2 L607.6 175.8 L610.2 176.5 L612.9 177.1 L615.5 176.7 L618.1 177.5 L620.7 178.0 L623.3 177.8 L626.0 176.5 L628.6 175.1 L631.2 173.8 L633.8 173.2 L636.0 173.9 L639.2 175.5 L642.3 178.1 L645.5 181.8 L648.1 185.9 L650.7 189.6 L653.8 192.7 L656.6 195.4 L659.1 199.6 L661.5 203.7 L665.1 210.3 L669.3 215.9 L672.4 219.6 L676.9 224.8 L680.0 227.9 L683.2 231.0" stroke="#00b050" stroke-dasharray="5.6 2.6" stroke-linecap="butt"/>
</g>
<g font-family="Liberation Sans, sans-serif" stroke="#2a2a2a" stroke-width="0.2">
<text x="46.30" y="10.11" font-size="11" text-anchor="end" fill="#2a2a2a" >1000</text>
<text x="404.30" y="9.65" font-size="11" text-anchor="end" fill="#2a2a2a" >1000</text>
<text x="46.30" y="101.14" font-size="11" text-anchor="end" fill="#2a2a2a" >100</text>
<text x="404.30" y="98.60" font-size="11" text-anchor="end" fill="#2a2a2a" >100</text>
<text x="46.30" y="192.17" font-size="11" text-anchor="end" fill="#2a2a2a" >10</text>
<text x="404.30" y="187.55" font-size="11" text-anchor="end" fill="#2a2a2a" >10</text>
<text x="46.30" y="283.20" font-size="11" text-anchor="end" fill="#2a2a2a" >1</text>
<text x="404.30" y="276.50" font-size="11" text-anchor="end" fill="#2a2a2a" >1</text>
<text x="56.90" y="298.60" font-size="11" text-anchor="middle" fill="#2a2a2a" >0.1</text>
<text x="415.10" y="291.60" font-size="11" text-anchor="middle" fill="#2a2a2a" >0.1</text>
<text x="174.20" y="298.60" font-size="11" text-anchor="middle" fill="#2a2a2a" >1</text>
<text x="531.75" y="291.60" font-size="11" text-anchor="middle" fill="#2a2a2a" >1</text>
<text x="291.50" y="298.60" font-size="11" text-anchor="middle" fill="#2a2a2a" >10</text>
<text x="648.40" y="291.60" font-size="11" text-anchor="middle" fill="#2a2a2a" >10</text>
<text x="191.00" y="324.50" font-size="11.4" text-anchor="middle" fill="#2a2a2a" textLength="86.5" lengthAdjust="spacingAndGlyphs" >Frequency (Hz)</text>
<text x="549.00" y="316.80" font-size="11.4" text-anchor="middle" fill="#2a2a2a" textLength="55" lengthAdjust="spacingAndGlyphs" >Period (s)</text>
<text transform="translate(11.0,141.3) rotate(-90)" font-size="11.4" text-anchor="middle" fill="#2a2a2a" textLength="129" lengthAdjust="spacingAndGlyphs">Fourier Spectra (cm/s)</text>
<text transform="translate(369.2,125) rotate(-90)" font-size="11.4" text-anchor="middle" fill="#2a2a2a" textLength="97" lengthAdjust="spacingAndGlyphs">pSv (cm/s;h=5%)</text>
<line x1="168.0" y1="346.9" x2="207.7" y2="346.9" stroke="#ff0000" stroke-width="2.3"/>
<text x="211.30" y="350.70" font-size="12.2" text-anchor="start" fill="#2a2a2a" textLength="78.8" lengthAdjust="spacingAndGlyphs" >CASE-VSvr_NS</text>
<line x1="168.0" y1="374.6" x2="207.7" y2="374.6" stroke="#ff0000" stroke-width="2.3" stroke-dasharray="6.2 2.4"/>
<text x="211.30" y="378.40" font-size="12.2" text-anchor="start" fill="#2a2a2a" textLength="78.8" lengthAdjust="spacingAndGlyphs" >CASE-VScr_NS</text>
<line x1="335.3" y1="346.9" x2="375.0" y2="346.9" stroke="#4a84bd" stroke-width="2.3"/>
<text x="379.30" y="350.70" font-size="12.2" text-anchor="start" fill="#2a2a2a" textLength="81" lengthAdjust="spacingAndGlyphs" >CASE-VSvr_EW</text>
<line x1="335.3" y1="374.6" x2="375.0" y2="374.6" stroke="#3f6cc4" stroke-width="2.3" stroke-dasharray="6.2 2.4"/>
<text x="379.30" y="378.40" font-size="12.2" text-anchor="start" fill="#2a2a2a" textLength="81" lengthAdjust="spacingAndGlyphs" >CASE-VScr_EW</text>
<line x1="502.7" y1="346.9" x2="542.4" y2="346.9" stroke="#00b050" stroke-width="2.3"/>
<text x="546.60" y="350.70" font-size="12.2" text-anchor="start" fill="#2a2a2a" textLength="81" lengthAdjust="spacingAndGlyphs" >CASE-VSvr_UD</text>
<line x1="502.7" y1="374.6" x2="542.4" y2="374.6" stroke="#00b050" stroke-width="2.3" stroke-dasharray="6.2 2.4"/>
<text x="546.60" y="378.40" font-size="12.2" text-anchor="start" fill="#2a2a2a" textLength="81" lengthAdjust="spacingAndGlyphs" >CASE-VScr_UD</text>
</g>
</svg>
</body></html>
